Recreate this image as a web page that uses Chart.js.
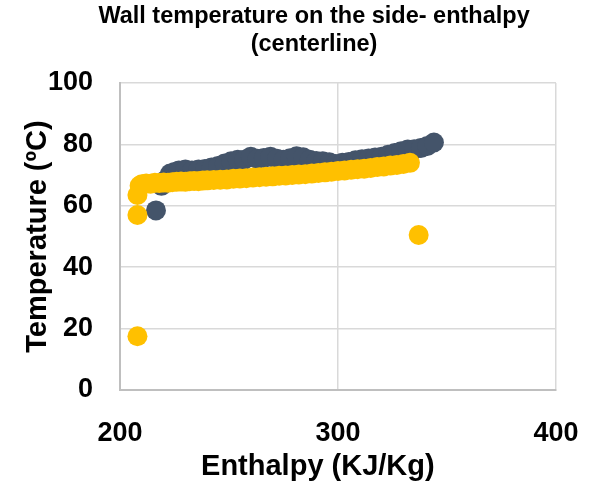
<!DOCTYPE html>
<html>
<head>
<meta charset="utf-8">
<script src="https://cdn.jsdelivr.net/npm/chart.js@4"></script>
<style>
  html, body { margin: 0; padding: 0; background: #fff; }
  #wrap { width: 591px; height: 485px; }
</style>
</head>
<body>
<div id="wrap"><canvas id="myChart" width="591" height="485"></canvas></div>
<script>
// values
const titleLines = ["Wall temperature on the side- enthalpy", "(centerline)"];
const xTitle = "Enthalpy (KJ/Kg)";
const yTitle = "Temperature (\u00BAC)";

// yellow series
const goldX = [208, 208, 208, 337,
  209, 210, 212, 214, 216, 218, 220, 222, 224, 226, 228, 230, 232, 234, 236, 238,
  240, 243, 246, 249, 252, 255, 258, 261, 264, 267, 270, 273, 276, 279, 282, 285,
  288, 291, 294, 297, 300, 303, 306, 309, 312, 315, 318, 321, 324, 327, 330, 333];
const goldY = [17.5, 57, 63.5, 50.5,
  66.5, 67, 67.3, 67.2, 67.5, 67.4, 67.6, 67.5, 67.7, 67.8, 67.9, 67.8, 68, 68.1, 68, 68.2,
  68.3, 68.4, 68.5, 68.6, 68.8, 68.9, 69, 69.2, 69.3, 69.5, 69.6, 69.8, 69.9, 70, 70.2, 70.3,
  70.5, 70.7, 70.9, 71.1, 71.3, 71.5, 71.7, 71.9, 72.1, 72.3, 72.6, 72.8, 73.1, 73.3, 73.6, 74];

// dark series
const darkX = [216.5, 219, 221, 223, 225, 227, 230, 233, 236, 239, 242, 245, 248, 251, 254,
  257, 260, 263, 266, 269, 272, 275, 278, 281, 284, 287, 290, 293, 296, 299, 302, 305,
  308, 311, 314, 317, 320, 323, 326, 329, 332, 335, 338, 341, 344];
const darkY = [58.5, 66.5, 68.5, 70.5, 71, 71.5, 71.8, 71.5, 71.8, 72, 72.5, 73, 73.8, 74.5, 75,
  75, 76, 75.3, 75.6, 76, 75.3, 75, 75.5, 76.1, 75.8, 75, 74.6, 74.5, 74.2, 73.6, 74, 74.3,
  74.8, 75.2, 75.4, 75.7, 76, 76.6, 77.2, 77.8, 78.3, 78.4, 78.8, 79.5, 80.6];

const xTicks = [200, 300, 400];
const yTicks = [0, 20, 40, 60, 80, 100];

function toPoints(xs, ys) {
  return xs.map((x, i) => ({ x: x, y: ys[i] }));
}

const FONT = "'Liberation Sans', Arial, sans-serif";

let ctx = document.getElementById("myChart").getContext("2d");
const myChart = new Chart(ctx, {
  type: "scatter",
  data: {
    datasets: [
      {
        label: "gold",
        data: toPoints(goldX, goldY),
        backgroundColor: "#FFC000",
        borderColor: "#FFC000",
        pointRadius: 10,
        borderWidth: 0,
      },
      {
        label: "dark",
        data: toPoints(darkX, darkY),
        backgroundColor: "#44546A",
        borderColor: "#44546A",
        pointRadius: 10,
        borderWidth: 0,
      },
    ],
  },
  options: {
    responsive: false,
    animation: false,
    layout: { padding: { left: 46, right: 35, top: 0, bottom: 0 } },
    plugins: {
      legend: { display: false },
      tooltip: { enabled: false },
      title: {
        display: true,
        // leading spaces push the title a bit right, like the original
        text: titleLines.map((t) => "    " + t),
        color: "#000",
        font: { family: FONT, size: 23.5, weight: "bold", lineHeight: 1.17 },
        padding: { top: 3, bottom: 25 },
      },
    },
    scales: {
      x: {
        type: "linear",
        min: 200,
        max: 400,
        afterBuildTicks: (s) => { s.ticks = xTicks.map((v) => ({ value: v })); },
        afterFit: (s) => {
          s.height = 95;
          s.paddingLeft = 0;
          s.paddingRight = 0;
        },
        ticks: {
          color: "#000",
          padding: 27,
          font: { family: FONT, size: 27, weight: "bold" },
        },
        grid: { color: "#D9D9D9", lineWidth: 1.5, drawTicks: false },
        border: { color: "#BFBFBF", width: 2 },
        title: {
          display: true,
          text: xTitle + "     ",
          color: "#000",
          font: { family: FONT, size: 29, weight: "bold", lineHeight: 1.2 },
          padding: { top: 0, bottom: 1 },
        },
      },
      y: {
        type: "linear",
        min: 0,
        max: 100,
        afterBuildTicks: (s) => { s.ticks = yTicks.map((v) => ({ value: v })); },
        afterFit: (s) => { s.width = 74; },
        ticks: {
          color: "#000",
          padding: 27,
          font: { family: FONT, size: 27, weight: "bold" },
        },
        grid: { color: "#D9D9D9", lineWidth: 1.5, drawTicks: false },
        border: { color: "#BFBFBF", width: 2 },
        title: {
          display: true,
          text: yTitle,
          color: "#000",
          font: { family: FONT, size: 29, weight: "bold", lineHeight: 1.2 },
          padding: { top: -25.5, bottom: 0 },
        },
      },
    },
  },
});
</script>
</body>
</html>
